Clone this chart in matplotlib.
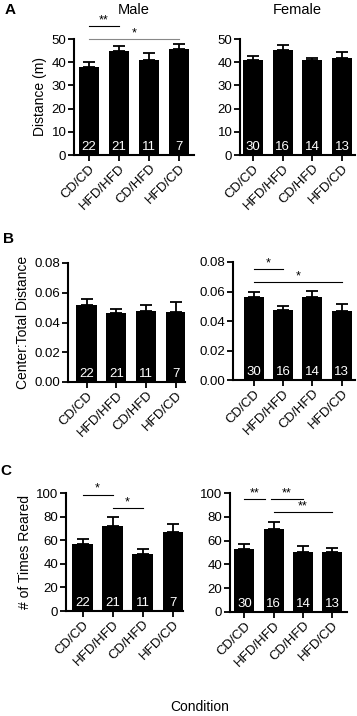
import numpy as np
import matplotlib
matplotlib.use("Agg")
import matplotlib.pyplot as plt

plt.rcParams['font.family'] = ['Liberation Sans', 'DejaVu Sans']

conditions = ["CD/CD", "HFD/HFD", "CD/HFD", "HFD/CD"]

# panel A: distance (m)
dist_male = [37.8, 45.0, 40.8, 45.7]
dist_male_err = [2.2, 2.1, 3.2, 2.3]
dist_female = [41.0, 45.4, 40.8, 41.7]
dist_female_err = [1.5, 2.0, 1.2, 2.8]

# panel B: center / total distance
ctr_male = [0.0515, 0.0464, 0.0477, 0.0468]
ctr_male_err = [0.0043, 0.0029, 0.0041, 0.0068]
ctr_female = [0.0562, 0.0476, 0.0562, 0.0469]
ctr_female_err = [0.0034, 0.0027, 0.0041, 0.0048]

# panel C: number of times reared
rear_male = [57.0, 71.7, 48.4, 66.6]
rear_male_err = [4.0, 7.9, 4.3, 6.8]
rear_female = [52.7, 69.9, 50.1, 50.1]
rear_female_err = [4.2, 5.6, 5.4, 3.7]

n_male = [22, 21, 11, 7]
n_female = [30, 16, 14, 13]

W, H = 357, 716


def rect(x0, x1, ytop, ybot):
    return [x0 / W, 1 - ybot / H, (x1 - x0) / W, (ybot - ytop) / H]


def bar_panel(ax, vals, errs, ns, ylim, yticks, fmt, xlim):
    x = np.arange(len(vals))
    ax.bar(x, vals, width=0.68, color="black")
    ax.errorbar(x, vals, yerr=[np.zeros(len(errs)), errs], fmt="none",
                ecolor="black", elinewidth=1.3, capsize=4, capthick=1.3)
    for i, n in enumerate(ns):
        ax.text(x[i], ylim[1] * 0.015, str(n), color="white", ha="center",
                va="bottom", fontsize=9.5)
    ax.set_xlim(*xlim)
    ax.set_ylim(*ylim)
    ax.set_yticks(yticks)
    ax.set_yticklabels([fmt.format(t) for t in yticks], fontsize=9.5)
    ax.set_xticks(x)
    ax.set_xticklabels(conditions, rotation=45, ha="right",
                       rotation_mode="anchor", fontsize=9.5)
    for s in ["top", "right"]:
        ax.spines[s].set_visible(False)
    for s in ["left", "bottom"]:
        ax.spines[s].set_linewidth(1.5)
    ax.tick_params(width=1.3, length=4, pad=1.5)


def sig(ax, i, j, y, label, color="black"):
    ax.plot([i, j], [y, y], color=color, lw=0.8, clip_on=False)
    ax.text((i + j) / 2, y, label, ha="center", va="bottom", fontsize=9,
            color="black", clip_on=False)


fig = plt.figure(figsize=(W / 100, H / 100), dpi=100)

a1 = fig.add_axes(rect(74, 194, 39, 155))
a2 = fig.add_axes(rect(240, 355, 39, 155))
b1 = fig.add_axes(rect(68, 185, 263, 382))
b2 = fig.add_axes(rect(233, 355, 262, 380))
c1 = fig.add_axes(rect(66, 183, 493, 611))
c2 = fig.add_axes(rect(230, 347, 493, 612))

bar_panel(a1, dist_male, dist_male_err, n_male, (0, 50), [0, 10, 20, 30, 40, 50], "{:g}", (-0.5, 3.5))
bar_panel(a2, dist_female, dist_female_err, n_female, (0, 50), [0, 10, 20, 30, 40, 50], "{:g}", (-0.44, 3.44))
bar_panel(b1, ctr_male, ctr_male_err, n_male, (0, 0.08), [0, 0.02, 0.04, 0.06, 0.08], "{:.2f}", (-0.62, 3.3))
bar_panel(b2, ctr_female, ctr_female_err, n_female, (0, 0.08), [0, 0.02, 0.04, 0.06, 0.08], "{:.2f}", (-0.7, 3.45))
bar_panel(c1, rear_male, rear_male_err, n_male, (0, 100), [0, 20, 40, 60, 80, 100], "{:g}", (-0.55, 3.34))
bar_panel(c2, rear_female, rear_female_err, n_female, (0, 100), [0, 20, 40, 60, 80, 100], "{:g}", (-0.49, 3.5))

a1.set_title("Male", fontsize=10.5, pad=18)
a2.set_title("Female", fontsize=10.5, pad=18)

a1.set_ylabel("Distance (m)", fontsize=10, labelpad=3)
b1.set_ylabel("Center:Total Distance", fontsize=10, labelpad=3)
c1.set_ylabel("# of Times Reared", fontsize=10, labelpad=3)

sig(a1, 0, 1, 55.5, "**")
sig(a1, 0, 3, 50, "*", color="#888888")
sig(b2, 0, 1, 0.0752, "*")
sig(b2, 0, 3, 0.0664, "*")
sig(c1, 0, 1, 98.6, "*")
sig(c1, 1, 2, 87, "*")
sig(c2, 0, 0.7, 95, "**")
sig(c2, 0.9, 2, 95, "**")
sig(c2, 1, 3, 84, "**")

fig.text(10 / W, 1 - 10 / H, "A", fontsize=11, fontweight="bold", ha="center", va="center")
fig.text(8 / W, 1 - 239 / H, "B", fontsize=11, fontweight="bold", ha="center", va="center")
fig.text(6 / W, 1 - 471 / H, "C", fontsize=11, fontweight="bold", ha="center", va="center")
fig.text(200 / W, 1 - 707 / H, "Condition", fontsize=10, ha="center", va="center")

fig.savefig("out.png", dpi=100)
